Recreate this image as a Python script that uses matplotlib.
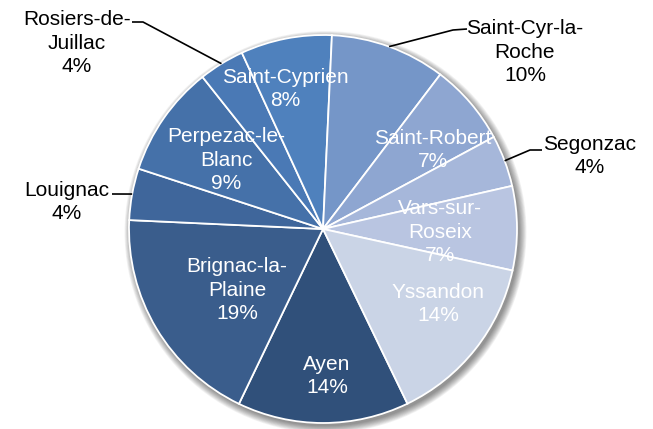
import matplotlib
matplotlib.use('Agg')
import matplotlib.pyplot as plt
import numpy as np
from matplotlib.patches import Circle

# communes, clockwise from the bottom, shares in %
communes = ['Ayen', 'Brignac-la-\nPlaine', 'Louignac', 'Perpezac-le-\nBlanc',
            'Rosiers-de-\nJuillac', 'Saint-Cyprien', 'Saint-Cyr-la-\nRoche',
            'Saint-Robert', 'Segonzac', 'Vars-sur-\nRoseix', 'Yssandon']
shares = [14.3, 18.6, 4.3, 9.3, 3.8, 7.6, 9.6, 6.8, 4.3, 7.0, 14.4]
colors = ['#30507a', '#3a5d8c', '#3f669b', '#4571a9', '#4a79b5', '#4f81bd',
          '#7596c8', '#8ea6d1', '#a6b7da', '#b9c5e1', '#cad4e6']

# label placement (pixels in the 653x429 picture)
inside = [True, True, False, True, False, True, False, True, False, True, True]
label_px = [(327, 376), (237, 290), (67, 202), (226, 160), (77, 43), (285, 89),
            (525, 52), (433, 150), (590, 156), (440, 232), (438, 304)]
elbow_px = [None, None, (112, 194), None, (143, 22), None,
            (453, 30), None, (530, 150), None, None]
end_px = [None, None, (112, 194), None, (132, 22), None,
          (467, 29), None, (542, 150), None, None]

W, H = 653, 429
cx, cy, R = 323, 229, 194

def to_data(p):
    return ((p[0] - cx) / R, (cy - p[1]) / R)

fig = plt.figure(figsize=(W / 100, H / 100), dpi=100)
ax = fig.add_axes([0, 0, 1, 1])

# soft shadow
for i in range(10):
    ax.add_patch(Circle((0.013, -0.016), 1.0 + 0.004 * i, color='k',
                        alpha=0.05, lw=0, zorder=0))

wedges, _ = ax.pie(shares, colors=colors, startangle=-64.2, counterclock=False,
                   radius=1.0, center=(0, 0), frame=True,
                   wedgeprops=dict(edgecolor='white', linewidth=1.3))
ax.set_xlim(-cx / R, (W - cx) / R)
ax.set_ylim(-(H - cy) / R, cy / R)
ax.set_aspect('auto')
ax.axis('off')

font = ['Liberation Sans', 'DejaVu Sans']
for i, w in enumerate(wedges):
    txt = f'{communes[i]}\n{round(shares[i])}%'
    x, y = to_data(label_px[i])
    ax.text(x, y, txt, ha='center', va='center', fontsize=15,
            family=font, linespacing=1.33,
            color='white' if inside[i] else 'black', zorder=5)
    if not inside[i]:
        mid = np.deg2rad((w.theta1 + w.theta2) / 2)
        ex, ey = to_data(elbow_px[i])
        tx, ty = to_data(end_px[i])
        ax.plot([np.cos(mid), ex, tx], [np.sin(mid), ey, ty], color='black',
                lw=1.2, solid_capstyle='butt', zorder=4)

fig.savefig('out.png', dpi=100)
